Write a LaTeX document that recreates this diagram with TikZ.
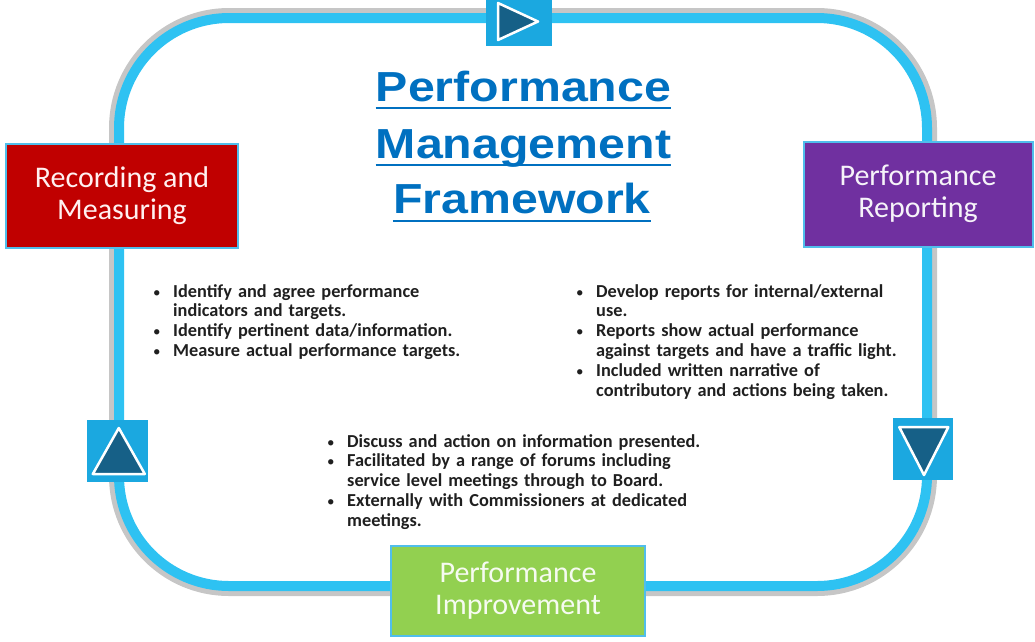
\documentclass[tikz,border=0pt]{standalone}
\usepackage{fontspec}
\setmainfont{Carlito}
\newfontfamily\titlefont{Liberation Sans}[FakeStretch=1.15]
\usetikzlibrary{calc}
\definecolor{loopblue}{RGB}{46,194,242}
\definecolor{arrowfill}{RGB}{27,168,224}
\definecolor{tridark}{RGB}{22,96,135}
\definecolor{boxred}{RGB}{192,0,0}
\definecolor{boxpurple}{RGB}{112,48,160}
\definecolor{boxgreen}{RGB}{146,208,80}
\definecolor{titleblue}{RGB}{0,112,192}
\definecolor{edgeblue}{RGB}{80,190,235}
\newcommand\bitem[1]{\hangindent=21pt\hangafter=1\noindent\makebox[21pt][l]{\hspace{1pt}{\mdseries\fontsize{15}{15}\selectfont\textbullet}}#1\par}
\newcommand\brk{\hfil\break}
\begin{document}
\begin{tikzpicture}[x=1pt,y=-1pt,
  stage/.style={draw=edgeblue, line width=2pt, inner sep=0pt, align=center, font=\fontsize{30}{32.5}\selectfont},
  arrowbox/.style={fill=arrowfill, inner sep=0pt},
  tri/.style={fill=tridark, draw=white, line width=2.5pt, line join=round},
  bullets/.style={anchor=base west, inner sep=0pt, text width=420pt, font=\bfseries\fontsize{18.3}{19.8}\selectfont, text=black!88},
  titleline/.style={anchor=base, inner sep=0pt, text=titleblue, font=\titlefont\bfseries\fontsize{42}{50}\selectfont},
  uline/.style={draw=titleblue, line width=2.6pt}
]
\useasboundingbox (0,0) rectangle (1035,641);
% loop with its shadow
\draw[gray!45, line width=10pt, rounded corners=115pt] (114,13) rectangle (932,591);
\draw[loopblue, line width=10pt, rounded corners=110pt] (119,18) rectangle (927,586);
% stage boxes
\node[stage, fill=boxred, text=white!94!red, minimum width=232pt, minimum height=104pt] (rec) at (122,195.5) {Recording and\\Measuring};
\node[stage, fill=boxpurple, text=white!94!boxpurple, minimum width=229pt, minimum height=105pt] (rep) at (918,194) {Performance\\Reporting};
\node[stage, fill=boxgreen, text=white!92!boxgreen, minimum width=254pt, minimum height=90pt] (imp) at (518,590.5) {Performance\\Improvement};
% arrow boxes
\node[arrowbox, minimum width=66pt, minimum height=46pt] (topa) at (518.5,22.5) {};
\draw[tri] ([shift={(-20.5,-19.5)}]topa.center) -- ([shift={(-20.5,17.5)}]topa.center) -- ([shift={(19.5,-1)}]topa.center) -- cycle;
\node[arrowbox, minimum width=61pt, minimum height=62pt] (lefta) at (117.8,451) {};
\draw[tri] ([shift={(1,-23)}]lefta.center) -- ([shift={(-25,23)}]lefta.center) -- ([shift={(27,23)}]lefta.center) -- cycle;
\node[arrowbox, minimum width=60pt, minimum height=62pt] (righta) at (923.3,449.2) {};
\draw[tri] ([shift={(-24,-22)}]righta.center) -- ([shift={(25,-22)}]righta.center) -- ([shift={(0.7,25.8)}]righta.center) -- cycle;
% title
\node[titleline] (t1) at (523.5,101) {Performance};
\node[titleline] (t2) at (523.5,158) {Management};
\node[titleline] (t3) at (522,213) {Framework};
\draw[uline] ($(t1.base west)+(0,7)$) -- ($(t1.base east)+(0,7)$);
\draw[uline] ($(t2.base west)+(0,7)$) -- ($(t2.base east)+(0,7)$);
\draw[uline] ($(t3.base west)+(0,8)$) -- ($(t3.base east)+(0,8)$);
% bullet lists
\node[bullets] (l1) at (152,297) {\bitem{Identify and agree performance\brk indicators and targets.}\bitem{Identify pertinent data/information.}\bitem{Measure actual performance targets.}};
\node[bullets] (l2) at (575,297) {\bitem{Develop reports for internal/external\brk use.}\bitem{Reports show actual performance\brk against targets and have a traffic light.}\bitem{Included written narrative of\brk contributory and actions being taken.}};
\node[bullets] (l3) at (326,447) {\bitem{Discuss and action on information presented.}\bitem{Facilitated by a range of forums including\brk service level meetings through to Board.}\bitem{Externally with Commissioners at dedicated\brk meetings.}};
\end{tikzpicture}
\end{document}
